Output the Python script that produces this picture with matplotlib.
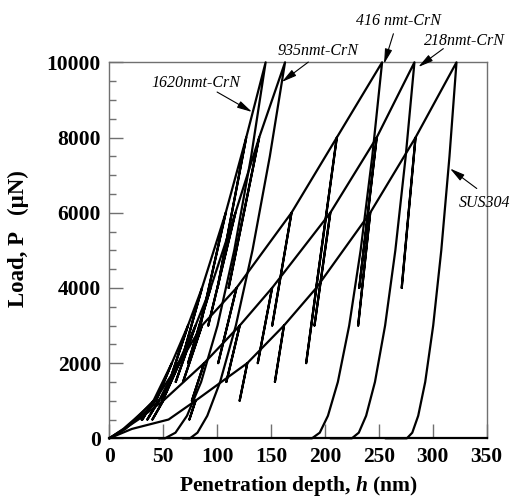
import matplotlib
matplotlib.use("Agg")
import matplotlib.pyplot as plt
from matplotlib.ticker import MultipleLocator

# ---------------- data ----------------
low_loads = [250, 500]                                   # virgin points before first cycle
cycle_loads = [1000, 2000, 3000, 4000, 6000, 8000]       # partial-unload peaks
max_load = 10000
final_loads = [10000, 7500, 5000, 3000, 1500, 600, 150, 0]

sus_low = [21, 55]
sus_peak = [80, 128, 162, 192, 242, 284, 322]
sus_end = [74.3, 120.9, 153.6, 182.6, 230.8, 271.2]
sus_final = [322, 315.5, 307.9, 300.4, 293, 286.5, 281, 276]
sus_tail = 256

c218_low = [14, 27]
c218_peak = [50, 88, 121, 151, 205, 248, 283]
c218_end = [40, 76.6, 108.6, 137.7, 190.3, 231.8]
c218_final = [283, 274.9, 265.3, 255.8, 246.4, 238.2, 231.4, 225]
c218_tail = 205

c416_low = [13, 23]
c416_peak = [42, 65, 86, 118, 169, 211, 253]
c416_end = [30, 49.5, 68.4, 101, 151.1, 191.9]
c416_final = [253, 243.9, 233.1, 222.5, 212, 202.8, 195.2, 188]
c416_tail = 168

c935_low = [15, 25]
c935_peak = [46, 64, 80, 94, 117, 139, 163]
c935_end = [35.3, 48.6, 61.6, 73.1, 91.8, 110.7]
c935_final = [163, 148.9, 132.8, 117.4, 102.8, 90.9, 81.8, 74.9]
c935_tail = 68

c1620_low = [14, 24]
c1620_peak = [41, 58, 73, 86, 108, 127, 145]
c1620_end = [30.7, 43.4, 55.7, 66.4, 84.5, 100.4]
c1620_final = [145, 131.6, 115.9, 100.4, 85.2, 72.1, 61.4, 51.7]
c1620_tail = 46

samples = [
    (sus_low, sus_peak, sus_end, sus_final, sus_tail),
    (c218_low, c218_peak, c218_end, c218_final, c218_tail),
    (c416_low, c416_peak, c416_end, c416_final, c416_tail),
    (c935_low, c935_peak, c935_end, c935_final, c935_tail),
    (c1620_low, c1620_peak, c1620_end, c1620_final, c1620_tail),
]

labels = ["1620nmt-CrN", "935nmt-CrN", "416 nmt-CrN", "218nmt-CrN", "SUS304"]
label_xy = [(80, 9440), (194, 10290), (268, 11090), (329, 10560), (348, 6270)]
arrow_tail = [(100, 9210), (184.6, 10007), (263.5, 10760), (309.8, 10364), (340.8, 6644)]
arrow_head = [(132.4, 8680), (160, 9477), (254.8, 9960), (286.6, 9876), (316, 7175)]

# ---------------- figure ----------------
plt.rcParams['font.family'] = ['Liberation Serif', 'DejaVu Serif']
plt.rcParams['mathtext.fontset'] = 'custom'
plt.rcParams['mathtext.rm'] = 'Liberation Serif:bold'
plt.rcParams['mathtext.it'] = 'Liberation Serif:italic:bold'
plt.rcParams['mathtext.bf'] = 'Liberation Serif:bold'

fig = plt.figure(figsize=(5.13, 5.01), dpi=100)
ax = fig.add_axes([0.213, 0.1251, 0.7357, 0.7505])

for low, peaks, ends, final, tail in samples:
    hs = [0.0]
    ps = [0.0]
    for h, p in zip(low, low_loads):
        hs.append(h); ps.append(p)
    for hp, he, p in zip(peaks[:-1], ends, cycle_loads):
        hs += [hp, he, hp]
        ps += [p, p / 2, p]
    for h, p in zip(final, final_loads):
        hs.append(h); ps.append(p)
    hs.append(tail); ps.append(0)
    ax.plot(hs, ps, color='black', lw=1.6, solid_joinstyle='round',
            solid_capstyle='round', clip_on=False, zorder=3)

for lab, txy, t0, t1 in zip(labels, label_xy, arrow_tail, arrow_head):
    ax.text(txy[0], txy[1], lab, fontsize=11.5, fontstyle='italic',
            ha='center', va='center', clip_on=False)
    ax.annotate('', xy=t1, xytext=t0,
                arrowprops=dict(arrowstyle='-|>,head_length=0.9,head_width=0.22',
                                color='black', lw=0.8, shrinkA=0, shrinkB=0),
                annotation_clip=False)

ax.set_xlim(0, 350)
ax.set_ylim(0, 10000)
ax.xaxis.set_major_locator(MultipleLocator(50))
ax.yaxis.set_major_locator(MultipleLocator(2000))
ax.yaxis.set_minor_locator(MultipleLocator(500))
spine_col = '#707070'
for s in ['top', 'right', 'left']:
    ax.spines[s].set_color(spine_col)
    ax.spines[s].set_linewidth(1.0)
ax.spines['bottom'].set_color('black')
ax.spines['bottom'].set_linewidth(1.6)
ax.tick_params(axis='both', which='major', direction='in', length=10, width=1.0,
               color=spine_col, labelsize=15.5, pad=6)
ax.tick_params(axis='y', which='minor', direction='in', length=5, width=1.0,
               color=spine_col)
for t in ax.get_xticklabels() + ax.get_yticklabels():
    t.set_fontweight('bold')

ax.set_xlabel('Penetration depth, $h$ (nm)', fontsize=15.5,
              fontweight='bold', labelpad=5)
ax.set_ylabel('Load, P   (\u00b5N)', fontsize=16.5, fontweight='bold')
ax.yaxis.set_label_coords(-0.213, 0.53)

fig.savefig('out.png', dpi=100)
